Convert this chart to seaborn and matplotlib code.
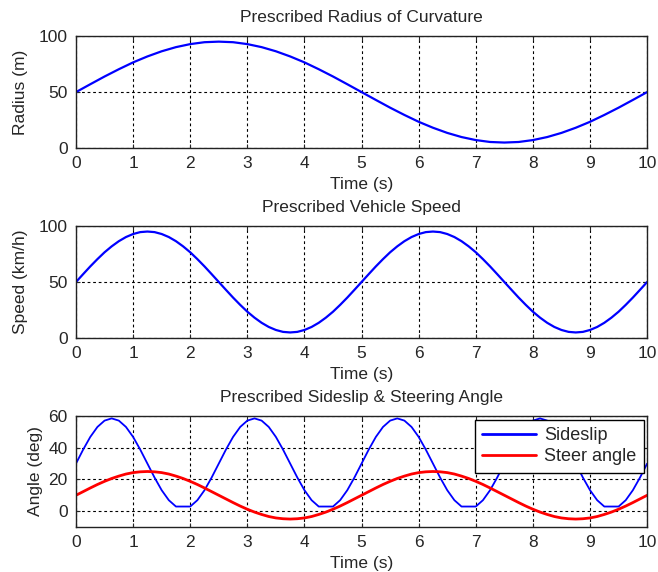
"""Prescribed vehicle manoeuvre: radius, speed, sideslip and steer angle."""

import matplotlib
matplotlib.use("Agg")
import matplotlib.pyplot as plt
import numpy as np
import pandas as pd
import seaborn as sns

# time bases: 0.25 s for radius, 0.125 s for the faster signals
TIME = np.arange(0, 10.001, 0.25)
TIME_FINE = np.arange(0, 10.001, 0.125)

RADIUS = [
    50.0, 57.0, 63.9, 70.4, 76.5, 81.8, 86.4, 90.1, 92.8, 94.5, 95.0,
    94.5, 92.8, 90.1, 86.4, 81.8, 76.5, 70.4, 63.9, 57.0, 50.0,
    43.0, 36.1, 29.6, 23.5, 18.2, 13.6, 9.9, 7.2, 5.5, 5.0,
    5.5, 7.2, 9.9, 13.6, 18.2, 23.5, 29.6, 36.1, 43.0, 50.0,
]

SPEED = [
    50.0, 57.0, 63.9, 70.4, 76.5, 81.8, 86.4, 90.1, 92.8, 94.5, 95.0,
    94.5, 92.8, 90.1, 86.4, 81.8, 76.5, 70.4, 63.9, 57.0, 50.0,
    43.0, 36.1, 29.6, 23.5, 18.2, 13.6, 9.9, 7.2, 5.5, 5.0,
    5.5, 7.2, 9.9, 13.6, 18.2, 23.5, 29.6, 36.1, 43.0, 50.0,
    57.0, 63.9, 70.4, 76.5, 81.8, 86.4, 90.1, 92.8, 94.5, 95.0,
    94.5, 92.8, 90.1, 86.4, 81.8, 76.5, 70.4, 63.9, 57.0, 50.0,
    43.0, 36.1, 29.6, 23.5, 18.2, 13.6, 9.9, 7.2, 5.5, 5.0,
    5.5, 7.2, 9.9, 13.6, 18.2, 23.5, 29.6, 36.1, 43.0, 50.0,
]

STEER = [
    10.0, 12.3, 14.6, 16.8, 18.8, 20.6, 22.1, 23.4, 24.3, 24.8, 25.0,
    24.8, 24.3, 23.4, 22.1, 20.6, 18.8, 16.8, 14.6, 12.3, 10.0,
    7.7, 5.4, 3.2, 1.2, -0.6, -2.1, -3.4, -4.3, -4.8, -5.0,
    -4.8, -4.3, -3.4, -2.1, -0.6, 1.2, 3.2, 5.4, 7.7, 10.0,
    12.3, 14.6, 16.8, 18.8, 20.6, 22.1, 23.4, 24.3, 24.8, 25.0,
    24.8, 24.3, 23.4, 22.1, 20.6, 18.8, 16.8, 14.6, 12.3, 10.0,
    7.7, 5.4, 3.2, 1.2, -0.6, -2.1, -3.4, -4.3, -4.8, -5.0,
    -4.8, -4.3, -3.4, -2.1, -0.6, 1.2, 3.2, 5.4, 7.7, 10.0,
]

SIDESLIP = [
    30.0, 38.8, 46.8, 53.1, 57.1, 58.5, 57.1, 53.1, 46.8, 38.8,
    30.0, 21.2, 13.2, 6.9, 2.9, 2.9, 2.9, 6.9, 13.2, 21.2,
    30.0, 38.8, 46.8, 53.1, 57.1, 58.5, 57.1, 53.1, 46.8, 38.8,
    30.0, 21.2, 13.2, 6.9, 2.9, 2.9, 2.9, 6.9, 13.2, 21.2,
    30.0, 38.8, 46.8, 53.1, 57.1, 58.5, 57.1, 53.1, 46.8, 38.8,
    30.0, 21.2, 13.2, 6.9, 2.9, 2.9, 2.9, 6.9, 13.2, 21.2,
    30.0, 38.8, 46.8, 53.1, 57.1, 58.5, 57.1, 53.1, 46.8, 38.8,
    30.0, 21.2, 13.2, 6.9, 2.9, 2.9, 2.9, 6.9, 13.2, 21.2,
    30.0,
]

XTICKS = list(range(0, 11))
FS = 12.5

sns.set_style("ticks")
plt.rcParams.update({
    "font.family": ["Liberation Sans", "DejaVu Sans"],
    "font.size": FS,
    "axes.edgecolor": "#222222",
    "axes.linewidth": 1.0,
    "xtick.direction": "in",
    "ytick.direction": "in",
    "xtick.major.size": 3,
    "ytick.major.size": 3,
})

fig = plt.figure(figsize=(6.58, 5.72), dpi=100)
left, width = 0.1155, 0.868
ax1 = fig.add_axes([left, 0.741, width, 0.196])
ax2 = fig.add_axes([left, 0.409, width, 0.196])
ax3 = fig.add_axes([left, 0.0787, width, 0.194])


def style_axis(ax, title, ylabel, ylim, yticks):
    ax.set_xlim(0, 10)
    ax.set_ylim(*ylim)
    ax.set_xticks(XTICKS)
    ax.set_yticks(yticks)
    ax.grid(True, color="black", linestyle=(0, (2.5, 2.5)), linewidth=0.8)
    ax.set_title(title, fontsize=FS, pad=10)
    ax.set_xlabel("Time (s)", fontsize=FS, labelpad=4)
    ax.set_ylabel(ylabel, fontsize=FS, labelpad=8)
    ax.tick_params(labelsize=FS, top=True, right=True, pad=6)
    for s in ax.spines.values():
        s.set_visible(True)


df1 = pd.DataFrame({"t": TIME, "r": RADIUS})
sns.lineplot(data=df1, x="t", y="r", ax=ax1, color="#0000ff", linewidth=1.6)
style_axis(ax1, "Prescribed Radius of Curvature", "Radius (m)", (0, 100), [0, 50, 100])

df2 = pd.DataFrame({"t": TIME_FINE, "v": SPEED})
sns.lineplot(data=df2, x="t", y="v", ax=ax2, color="#0000ff", linewidth=1.6)
style_axis(ax2, "Prescribed Vehicle Speed", "Speed (km/h)", (0, 100), [0, 50, 100])

df3a = pd.DataFrame({"t": TIME_FINE, "a": SIDESLIP})
df3b = pd.DataFrame({"t": TIME_FINE, "a": STEER})
sns.lineplot(data=df3a, x="t", y="a", ax=ax3, color="#0000ff", linewidth=1.3,
             label="Sideslip")
sns.lineplot(data=df3b, x="t", y="a", ax=ax3, color="#ff0000", linewidth=2.0,
             label="Steer angle")
style_axis(ax3, "Prescribed Sideslip & Steering Angle", "Angle (deg)", (-10, 60),
           [0, 20, 40, 60])
ax3.yaxis.labelpad = 4
leg = ax3.legend(loc="upper right", fontsize=13, frameon=True, fancybox=False,
                 edgecolor="black", framealpha=1, borderaxespad=0.2,
                 handlelength=3.0, handletextpad=0.45, borderpad=0.4,
                 labelspacing=0.25)
leg.get_frame().set_linewidth(1.0)
for line in leg.get_lines():
    line.set_linewidth(2.0)

fig.savefig("out.png", dpi=100)
